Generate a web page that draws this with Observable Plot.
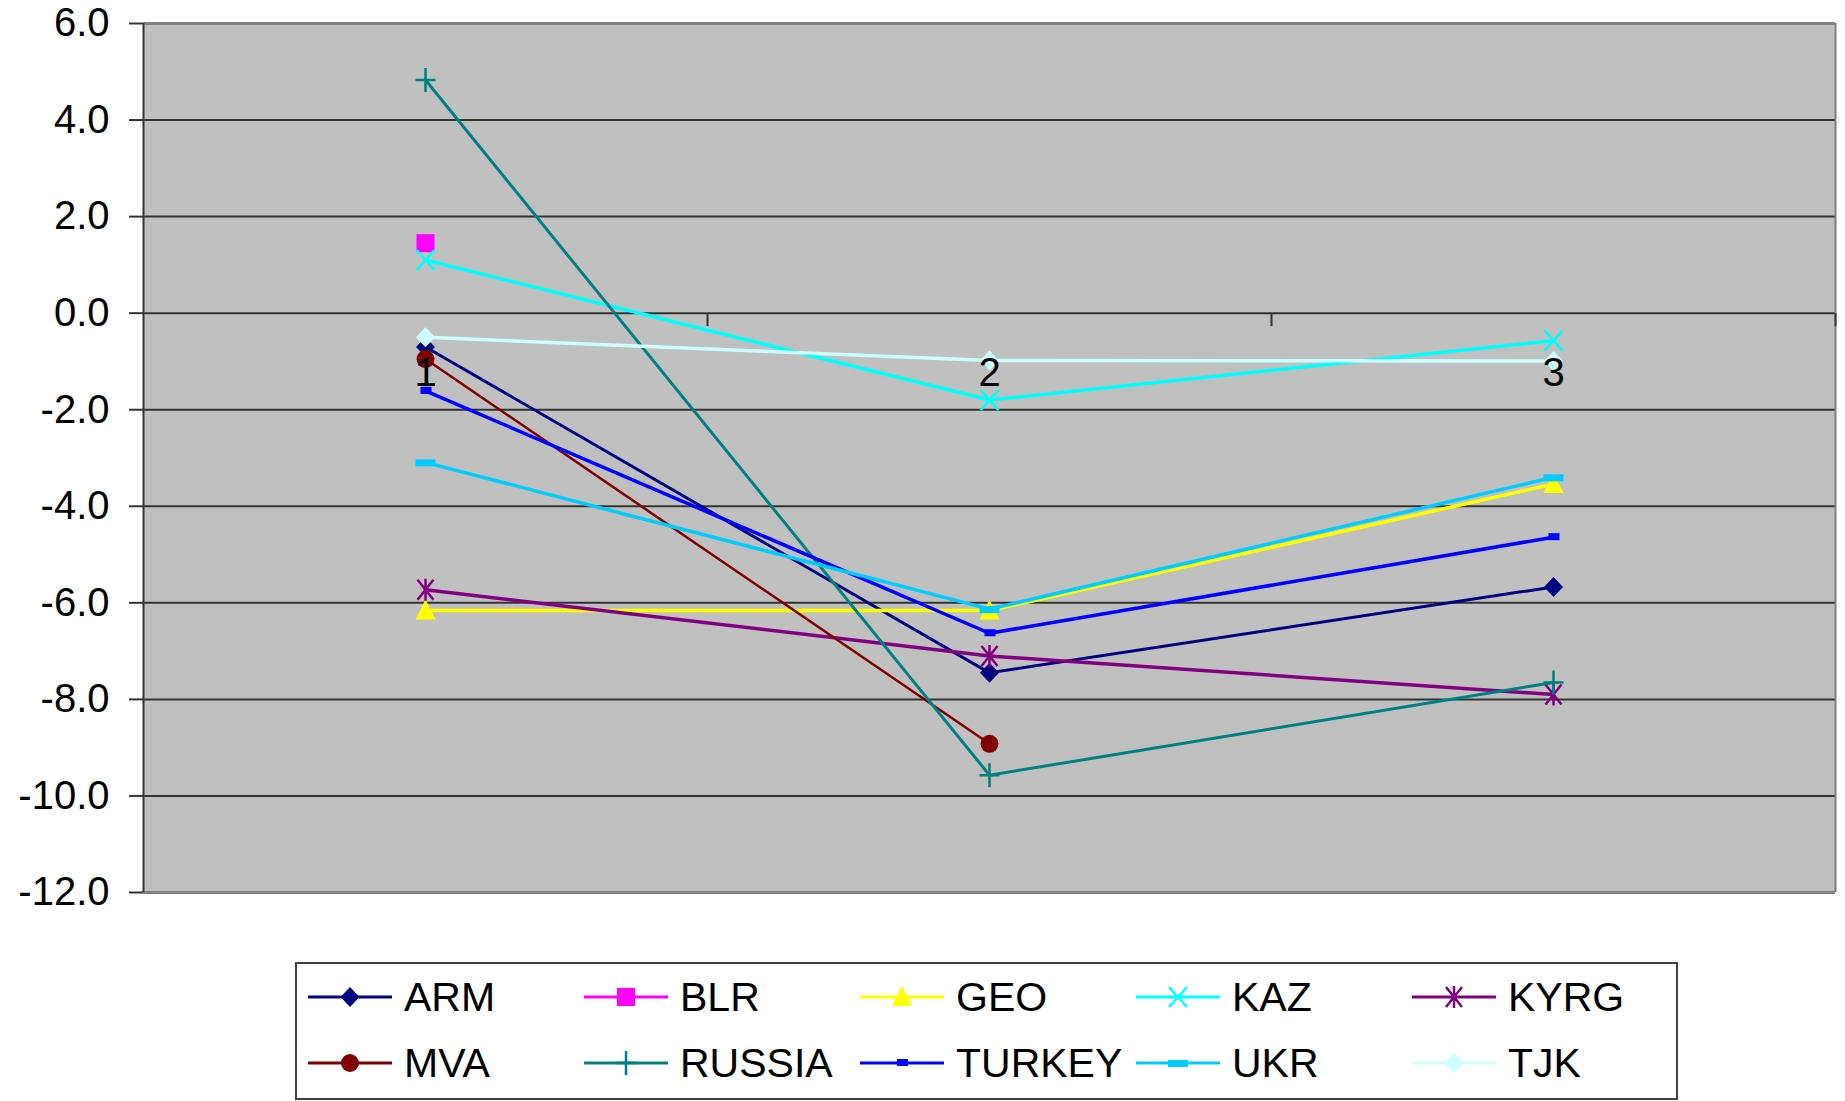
<!DOCTYPE html>
<html><head><meta charset="utf-8">
<script src="https://cdn.jsdelivr.net/npm/d3@7"></script>
<script src="https://cdn.jsdelivr.net/npm/@observablehq/plot@0.6"></script>
<style>
html,body{margin:0;padding:0;background:#fff;}
body{width:1845px;height:1101px;position:relative;overflow:hidden;font-family:"Liberation Sans",Arial,sans-serif;}
#chart{position:absolute;left:0;top:0;}
#legend{position:absolute;left:295px;top:962px;width:1379px;height:134px;border:2px solid #404040;background:#fff;}
.item{position:absolute;height:44px;display:flex;align-items:center;white-space:nowrap;}
.item svg{display:block;}
.item span{font-size:41px;line-height:44px;color:#000;margin-left:12px;}
</style></head><body>
<div id="chart"></div><div id="legend"></div>
<script>
// ---- data ----
const categories = [1, 2, 3];
const seriesNames = ["ARM", "BLR", "GEO", "KAZ", "KYRG", "MVA", "RUSSIA", "TURKEY", "UKR", "TJK"];
const ARM    = [-0.70, -7.45, -5.67];
const BLR    = [1.45, null, null];
const GEO    = [-6.16, -6.16, -3.54];
const KAZ    = [1.10, -1.80, -0.57];
const KYRG   = [-5.73, -7.10, -7.90];
const MVA    = [-0.95, -8.92, null];
const RUSSIA = [4.83, -9.57, -7.65];
const TURKEY = [-1.61, -6.63, -4.64];
const UKR    = [-3.09, -6.13, -3.40];
const TJK    = [-0.50, -0.98, -0.99];
const yTicks = [-12, -10, -8, -6, -4, -2, 0, 2, 4, 6];
const categoryBoundaries = [1.5, 2.5, 3.5];
const axisCrossing = 0;

const seriesValues = {ARM, BLR, GEO, KAZ, KYRG, MVA, RUSSIA, TURKEY, UKR, TJK};

// ---- marker shapes (Excel-like) ----
const sym = {
  diamond: {draw(c){c.moveTo(0,-10);c.lineTo(9.5,0);c.lineTo(0,10);c.lineTo(-9.5,0);c.closePath();}},
  square: {draw(c){c.rect(-9,-9,18,18);}},
  triangle: {draw(c){c.moveTo(0,-11);c.lineTo(10,9);c.lineTo(-10,9);c.closePath();}},
  times: {draw(c){c.moveTo(-9,-10);c.lineTo(9,10);c.moveTo(9,-10);c.lineTo(-9,10);}},
  asterisk: {draw(c){c.moveTo(-8,-10);c.lineTo(8,10);c.moveTo(8,-10);c.lineTo(-8,10);c.moveTo(0,-11);c.lineTo(0,11);}},
  circle: {draw(c){c.moveTo(9,0);c.arc(0,0,9,0,2*Math.PI);}},
  plus: {draw(c){c.moveTo(-10,0);c.lineTo(10,0);c.moveTo(0,-12);c.lineTo(0,12);}},
  smallRect: {draw(c){c.rect(-5,-4,11,7);}},
  dash: {draw(c){c.rect(-10,-3,20,7);}},
  tickDown: {draw(c){c.moveTo(0,0);c.lineTo(0,13);}}
};

// ---- series styles ----
const styles = {
  ARM:    {color:"#000080", marker:sym.diamond,  filled:true,  width:3},
  BLR:    {color:"#FF00FF", marker:sym.square,   filled:true,  width:3.5},
  GEO:    {color:"#FFFF00", marker:sym.triangle, filled:true,  width:3.5},
  KAZ:    {color:"#00FFFF", marker:sym.times,    filled:false, width:3.5},
  KYRG:   {color:"#800080", marker:sym.asterisk, filled:false, width:3.5},
  MVA:    {color:"#800000", marker:sym.circle,   filled:true,  width:2.5},
  RUSSIA: {color:"#008080", marker:sym.plus,     filled:false, width:3},
  TURKEY: {color:"#0000FF", marker:sym.smallRect,filled:true,  width:3.5},
  UKR:    {color:"#00CCFF", marker:sym.dash,     filled:true,  width:3.5},
  TJK:    {color:"#CCFFFF", marker:sym.diamond,  filled:true,  width:3.5}
};

const rows = [];
for (const s of seriesNames) {
  seriesValues[s].forEach((v, i) => rows.push({series: s, cat: categories[i], value: v}));
}

const seriesMarks = [];
for (const s of seriesNames) {
  const st = styles[s];
  const data = rows.filter(r => r.series === s);
  seriesMarks.push(Plot.line(data, {x: "cat", y: "value", stroke: st.color, strokeWidth: st.width, strokeLinejoin: "round"}));
  seriesMarks.push(Plot.dot(data, {
    x: "cat", y: "value", r: 8, symbol: st.marker,
    fill: st.filled ? st.color : "none",
    stroke: st.filled ? "none" : st.color,
    strokeWidth: 2.5
  }));
}

const chart = Plot.plot({
  width: 1845,
  height: 910,
  marginLeft: 143,
  marginRight: 10,
  marginTop: 23,
  marginBottom: 18,
  style: {fontFamily: '"Liberation Sans", Arial, sans-serif', fontSize: "40px", background: "#fff", color: "#000", overflow: "visible"},
  x: {domain: [0.5, 3.5], axis: null},
  y: {domain: [-12, 6], axis: null},
  marks: [
    Plot.frame({fill: "#c0c0c0", stroke: "none"}),
    Plot.ruleY(yTicks.filter(t => t > -12 && t < 6), {stroke: "#333", strokeWidth: 2}),
    Plot.ruleY([6], {stroke: "#808080", strokeWidth: 3}),
    Plot.ruleY([-12], {stroke: "#808080", strokeWidth: 3}),
    Plot.ruleX([3.5], {stroke: "#808080", strokeWidth: 2}),
    Plot.ruleX([0.5], {stroke: "#333", strokeWidth: 2}),
    Plot.axisY({ticks: yTicks, tickFormat: d => d.toFixed(1), tickSize: 14, tickPadding: 20, fontSize: 40, stroke: "#333", strokeWidth: 2, label: null, fill: "#000"}),
    Plot.dot(categoryBoundaries, {x: d => d, y: () => axisCrossing, r: 5, symbol: sym.tickDown, stroke: "#333", strokeWidth: 2, fill: "none"}),
    ...seriesMarks,
    Plot.text(categories, {x: d => d, y: () => axisCrossing, text: d => String(d), dy: 60, fontSize: 40, fill: "#000"})
  ]
});
document.getElementById("chart").appendChild(chart);

// ---- legend ----
const legend = document.getElementById("legend");
seriesNames.forEach((s, k) => {
  const st = styles[s];
  const row = Math.floor(k / 5), col = k % 5;
  const item = document.createElement("div");
  item.className = "item";
  item.style.left = (11 + col * 276) + "px";
  item.style.top = (11 + row * 66) + "px";
  const p = d3.path();
  st.marker.draw(p);
  const ns = "http://www.w3.org/2000/svg";
  const svg = document.createElementNS(ns, "svg");
  svg.setAttribute("width", 84); svg.setAttribute("height", 30);
  const line = document.createElementNS(ns, "line");
  line.setAttribute("x1", 0); line.setAttribute("x2", 84);
  line.setAttribute("y1", 15); line.setAttribute("y2", 15);
  line.setAttribute("stroke", st.color); line.setAttribute("stroke-width", 3);
  svg.appendChild(line);
  const path = document.createElementNS(ns, "path");
  path.setAttribute("d", p.toString());
  path.setAttribute("transform", "translate(42,15)");
  path.setAttribute("fill", st.filled ? st.color : "none");
  path.setAttribute("stroke", st.filled ? "none" : st.color);
  path.setAttribute("stroke-width", 2.5);
  svg.appendChild(path);
  item.appendChild(svg);
  const span = document.createElement("span");
  span.textContent = s;
  item.appendChild(span);
  legend.appendChild(item);
});
</script>
</body></html>
